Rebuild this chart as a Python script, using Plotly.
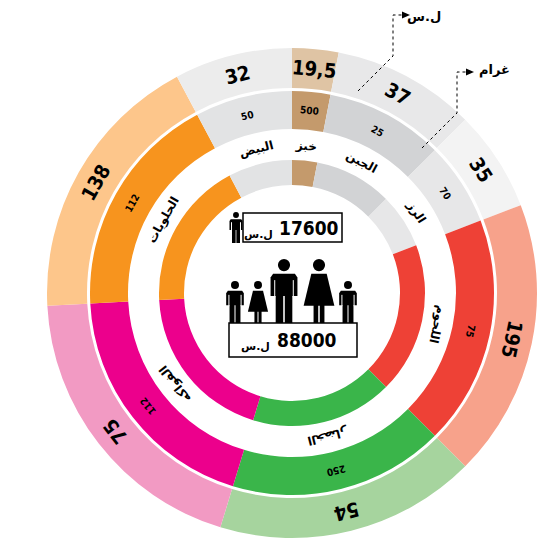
import numpy as np
import plotly.graph_objects as go

# --- data ---
categories = ['خبز', 'الجبن', 'الرز', 'اللحوم', 'الخضار', 'الفواكه', 'الحلويات', 'البيض']
daily_cost = [19.5, 37, 35, 195, 54, 75, 138, 32]          # ل.س per day
cost_labels = ['19,5', '37', '35', '195', '54', '75', '138', '32']
grams = [500, 25, 70, 75, 250, 112, 112, 50]               # غرام
sector_share = [11, 34, 24, 66, 62, 70, 65, 28]            # degrees of the circle
per_person = 17600
per_family = 88000
currency = 'ل.س'
unit_gram = 'غرام'

# --- styles ---
outer_colors = ['#dfc4a4', '#e8e8e9', '#f3f3f3', '#f7a28b', '#a6d49e', '#f29ac3', '#fdc68b', '#ececec']
mid_colors = ['#c49a6c', '#d2d3d5', '#e7e7e8', '#ee4136', '#3ab54a', '#ec008c', '#f7941e', '#e2e3e4']

# page body adds an 8px margin, so the figure is drawn inside it
OFF = 8
W, H = 553 - 2 * OFF, 556 - 2 * OFF
CX, CY, R = 292, 293, 246
NUM_FONT = 'Liberation Sans Narrow, DejaVu Sans Condensed, sans-serif'
AR_FONT = 'DejaVu Sans, Noto Sans, sans-serif'

share = np.array(sector_share, dtype=float)
mids = np.cumsum(share) - share / 2


def px(x):
    return (x - OFF) / W


def py(y):
    return 1 - (y - OFF) / H


def at(theta, r):
    t = np.radians(theta)
    return CX + r * np.sin(t), CY - r * np.cos(t)


fig = go.Figure()

rings = [(108, 133, mid_colors), (164, 202, mid_colors), (205, 245, outer_colors)]
for r0, r1, cols in rings:
    fig.add_trace(go.Barpolar(
        theta=mids, width=share, base=[r0] * len(share), r=[r1 - r0] * len(share),
        marker=dict(color=cols, line=dict(width=0)),
        text=categories, hoverinfo='text', showlegend=False))

ann = []


def text_at(x, y, text, size, family, angle=0):
    ann.append(dict(x=px(x), y=py(y), xref='paper', yref='paper', text=text,
                    showarrow=False, textangle=angle, xanchor='center', yanchor='middle',
                    font=dict(size=size, family=family, color='black', weight='bold')))


for i, cat in enumerate(categories):
    text_at(*at(mids[i], 225), cost_labels[i], 20, NUM_FONT, mids[i])
    text_at(*at(mids[i], 183), str(grams[i]), 10, NUM_FONT, mids[i])
    text_at(*at(mids[i], 148), cat, 12, AR_FONT, mids[i])

shapes = []


def P(x, y):
    return f'{px(x):.5f},{py(y):.5f}'


def rect(x0, y0, x1, y1, fill='black', line=None):
    shapes.append(dict(type='rect', xref='paper', yref='paper', x0=px(x0), x1=px(x1),
                       y0=py(y1), y1=py(y0), fillcolor=fill,
                       line=line or dict(width=0)))


def circle(cx, cy, r):
    shapes.append(dict(type='circle', xref='paper', yref='paper', x0=px(cx - r), x1=px(cx + r),
                       y0=py(cy + r), y1=py(cy - r), fillcolor='black', line=dict(width=0)))


def path(pts, fill='black', close=True, line=None):
    d = 'M' + ' L'.join(P(x, y) for x, y in pts) + (' Z' if close else '')
    shapes.append(dict(type='path', xref='paper', yref='paper', path=d,
                       fillcolor=fill if close else None,
                       line=line or dict(width=0)))


def man(cx, top, h):
    r = 0.095 * h
    circle(cx, top + r, r)
    path([(cx - 0.21 * h, top + 0.58 * h), (cx - 0.21 * h, top + 0.29 * h),
          (cx - 0.17 * h, top + 0.23 * h), (cx + 0.17 * h, top + 0.23 * h),
          (cx + 0.21 * h, top + 0.29 * h), (cx + 0.21 * h, top + 0.58 * h)])
    rect(cx - 0.13 * h, top + 0.5 * h, cx - 0.012 * h, top + h)
    rect(cx + 0.012 * h, top + 0.5 * h, cx + 0.13 * h, top + h)
    for s in (-1, 1):
        path([(cx + s * 0.145 * h, top + 0.33 * h), (cx + s * 0.145 * h, top + 0.6 * h)],
             close=False, line=dict(color='white', width=1))


def woman(cx, top, h):
    r = 0.095 * h
    circle(cx, top + r, r)
    path([(cx - 0.12 * h, top + 0.23 * h), (cx + 0.12 * h, top + 0.23 * h),
          (cx + 0.24 * h, top + 0.73 * h), (cx - 0.24 * h, top + 0.73 * h)])
    rect(cx - 0.085 * h, top + 0.7 * h, cx - 0.012 * h, top + h)
    rect(cx + 0.012 * h, top + 0.7 * h, cx + 0.085 * h, top + h)


# per-person box
rect(243, 213, 342, 242, fill='white', line=dict(color='black', width=1.5))
man(236, 212, 31)
# family box
man(235, 281, 42)
woman(258, 281, 42)
man(284, 259, 64)
woman(319, 259, 64)
man(348, 281, 42)
rect(229, 323, 357, 357, fill='white', line=dict(color='black', width=1.5))

text_at(309, 228, f'{per_person}', 19, NUM_FONT)
text_at(258, 234, currency, 11, AR_FONT)
text_at(307, 340, f'{per_family}', 19, NUM_FONT)
text_at(255, 346, currency, 11, AR_FONT)

# unit call-outs
dash = dict(color='black', width=1, dash='dot')
path([(358, 91), (393, 56), (393, 15), (404, 15)], close=False, line=dash)
path([(402, 11.5), (410, 15), (402, 18.5)])
text_at(424, 16, currency, 13, AR_FONT)
path([(422, 148), (457, 113), (457, 72), (468, 72)], close=False, line=dash)
path([(466, 68.5), (474, 72), (466, 75.5)])
text_at(494, 70, unit_gram, 13, AR_FONT)

fig.update_layout(
    width=W, height=H,
    margin=dict(l=0, r=0, t=0, b=0),
    paper_bgcolor='white', plot_bgcolor='white',
    polar=dict(
        domain=dict(x=[px(CX - R), px(CX + R)], y=[py(CY + R), py(CY - R)]),
        bgcolor='white', hole=0,
        radialaxis=dict(range=[0, R], visible=False),
        angularaxis=dict(rotation=90, direction='clockwise', visible=False),
    ),
    bargap=0,
    annotations=ann,
    shapes=shapes,
)

fig.write_html('out.html')
